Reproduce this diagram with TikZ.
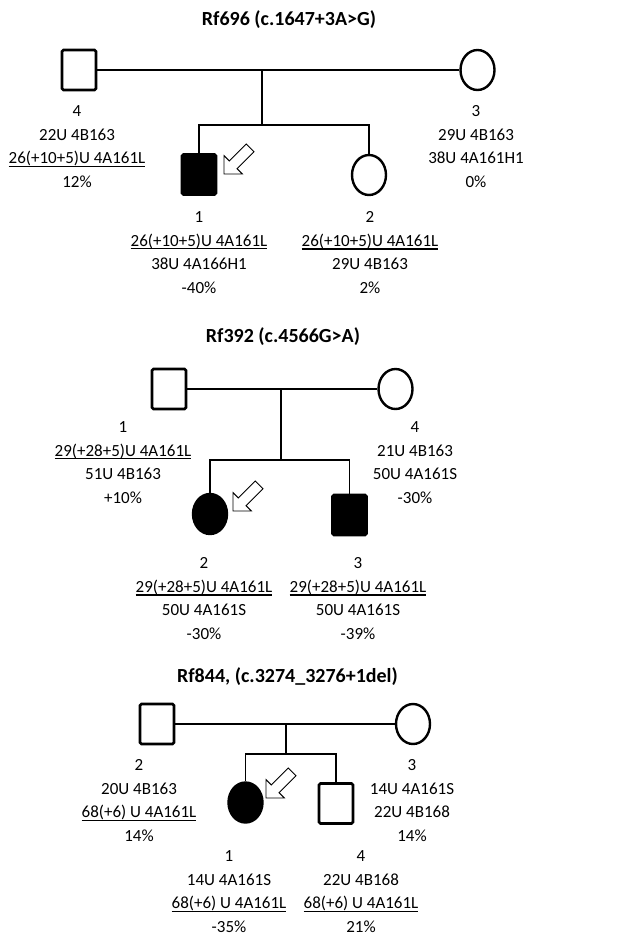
\documentclass[tikz,border=0pt]{standalone}
\usepackage{fontspec}
\setmainfont{Carlito}
\usetikzlibrary{shapes.geometric, positioning, calc}
\newcommand\undl[1]{\setbox0\hbox{#1}\rlap{\rule[-3.2pt]{\wd0}{1.3pt}}\box0}

\begin{document}
\begin{tikzpicture}[x=1pt, y=-1pt,
    male/.style={draw, rectangle, rounded corners=1.5pt, minimum width=34pt, minimum height=40pt, inner sep=0pt, line width=2.6pt},
    female/.style={draw, ellipse, minimum width=34pt, minimum height=40pt, inner sep=0pt, line width=2.4pt},
    aff/.style={fill=black},
    lbl/.style={align=center, anchor=north, inner sep=0pt, font=\fontsize{17}{23.5}\selectfont},
    ttl/.style={font=\bfseries\fontsize{20}{24}\selectfont},
    rel/.style={line width=1.9pt},
    proband/.pic={\draw[line width=0.9pt, fill=white] (0,0) -- (-13,13) -- (-13,5.5) -- (-37,5.5) -- (-37,-5.5) -- (-13,-5.5) -- (-13,-13) -- cycle;}
  ]
  \useasboundingbox (0,0) rectangle (619,935);

  % Rf696
  \node[ttl] (t1) at (289,20) {Rf696 (c.1647+3A>G)};
  \node[male] (f1) at (79,70) {};
  \node[female] (m1) at (477.5,70) {};
  \node[male, aff] (c11) at (199,174.5) {};
  \node[female] (c12) at (369,175) {};
  \coordinate (u1) at (262,70);
  \coordinate (s1) at (262,125);
  \draw[rel] (f1) -- (m1);
  \draw[rel] (u1) -- (s1);
  \draw[rel] (c11.north) |- (s1) -| (c12.north);
  \pic[rotate=225] at (224,174) {proband};
  \node[lbl] (l14) at (77,105.6) {4\\22U 4B163\\\undl{26(+10+5)U 4A161L}\\12\%};
  \node[lbl] (l13) at (476,105.6) {3\\29U 4B163\\38U 4A161H1\\0\%};
  \node[lbl] (l11) at (199,211.6) {1\\\undl{26(+10+5)U 4A161L}\\38U 4A166H1\\-40\%};
  \node[lbl] (l12) at (370,211.6) {2\\\undl{26(+10+5)U 4A161L}\\29U 4B163\\2\%};

  % Rf392
  \node[ttl] (t2) at (283,337) {Rf392 (c.4566G>A)};
  \node[male] (f2) at (169,389) {};
  \node[female] (m2) at (395.5,389) {};
  \node[female, aff] (c22) at (210,514) {};
  \node[male, aff] (c23) at (349.5,515) {};
  \coordinate (u2) at (281,389);
  \coordinate (s2) at (281,460);
  \draw[rel] (f2) -- (m2);
  \draw[rel] (u2) -- (s2);
  \draw[rel] (c22.north) |- (s2) -| (c23.north);
  \pic[rotate=225] at (233,511) {proband};
  \node[lbl] (l21) at (123,421.6) {1\\\undl{29(+28+5)U 4A161L}\\51U 4B163\\+10\%};
  \node[lbl] (l24) at (415,421.6) {4\\21U 4B163\\50U 4A161S\\-30\%};
  \node[lbl] (l22) at (204,557.6) {2\\\undl{29(+28+5)U 4A161L}\\50U 4A161S\\-30\%};
  \node[lbl] (l23) at (358,557.6) {3\\\undl{29(+28+5)U 4A161L}\\50U 4A161S\\-39\%};

  % Rf844
  \node[ttl] (t3) at (287.5,677) {Rf844, (c.3274\_3276+1del)};
  \node[male] (f3) at (157,724) {};
  \node[female] (m3) at (413,724) {};
  \node[female, aff] (c31) at (245.5,802.5) {};
  \node[male] (c34) at (336,803.5) {};
  \coordinate (u3) at (286,724);
  \coordinate (s3) at (286,754);
  \draw[rel] (f3) -- (m3);
  \draw[rel] (u3) -- (s3);
  \draw[rel] (c31.north) |- (s3) -| (c34.north);
  \pic[rotate=225] at (266,798) {proband};
  \node[lbl] (l32) at (139,759.6) {2\\20U 4B163\\\undl{68(+6) U 4A161L}\\14\%};
  \node[lbl] (l33) at (412,759.6) {3\\14U 4A161S\\22U 4B168\\14\%};
  \node[lbl] (l31) at (229,850.6) {1\\14U 4A161S\\\undl{68(+6) U 4A161L}\\-35\%};
  \node[lbl] (l34) at (361,850.6) {4\\22U 4B168\\\undl{68(+6) U 4A161L}\\21\%};
\end{tikzpicture}
\end{document}
